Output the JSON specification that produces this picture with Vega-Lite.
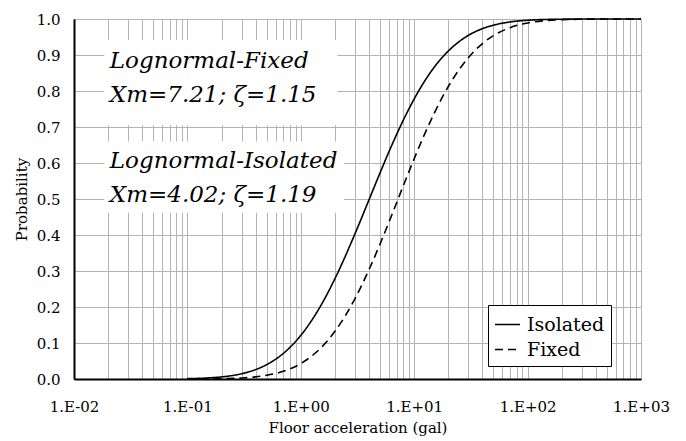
{
  "$schema": "https://vega.github.io/schema/vega-lite/v6.json",
  "width": 567,
  "height": 360,
  "autosize": "none",
  "padding": {"left": 74, "top": 19, "right": 45, "bottom": 62},
  "background": "white",
  "datasets": {
    "curves": [
      {"x": 0.1, "p": 0.00095, "series": "Isolated"},
      {"x": 0.15, "p": 0.00286, "series": "Isolated"},
      {"x": 0.2, "p": 0.00584, "series": "Isolated"},
      {"x": 0.3, "p": 0.0146, "series": "Isolated"},
      {"x": 0.4, "p": 0.0262, "series": "Isolated"},
      {"x": 0.5, "p": 0.0399, "series": "Isolated"},
      {"x": 0.7, "p": 0.0709, "series": "Isolated"},
      {"x": 1, "p": 0.1212, "series": "Isolated"},
      {"x": 1.5, "p": 0.2037, "series": "Isolated"},
      {"x": 2, "p": 0.2787, "series": "Isolated"},
      {"x": 3, "p": 0.4028, "series": "Isolated"},
      {"x": 4, "p": 0.4983, "series": "Isolated"},
      {"x": 5, "p": 0.5727, "series": "Isolated"},
      {"x": 6, "p": 0.6318, "series": "Isolated"},
      {"x": 7, "p": 0.6794, "series": "Isolated"},
      {"x": 8, "p": 0.7185, "series": "Isolated"},
      {"x": 10, "p": 0.7781, "series": "Isolated"},
      {"x": 12, "p": 0.821, "series": "Isolated"},
      {"x": 15, "p": 0.8658, "series": "Isolated"},
      {"x": 20, "p": 0.9112, "series": "Isolated"},
      {"x": 25, "p": 0.9377, "series": "Isolated"},
      {"x": 30, "p": 0.9544, "series": "Isolated"},
      {"x": 40, "p": 0.9732, "series": "Isolated"},
      {"x": 50, "p": 0.9829, "series": "Isolated"},
      {"x": 70, "p": 0.9918, "series": "Isolated"},
      {"x": 100, "p": 0.99654, "series": "Isolated"},
      {"x": 150, "p": 0.99882, "series": "Isolated"},
      {"x": 200, "p": 0.99949, "series": "Isolated"},
      {"x": 300, "p": 0.99985, "series": "Isolated"},
      {"x": 500, "p": 0.99997, "series": "Isolated"},
      {"x": 1000, "p": 1.0, "series": "Isolated"},
      {"x": 0.1, "p": 0.0001, "series": "Fixed"},
      {"x": 0.15, "p": 0.00038, "series": "Fixed"},
      {"x": 0.2, "p": 0.00091, "series": "Fixed"},
      {"x": 0.3, "p": 0.00285, "series": "Fixed"},
      {"x": 0.4, "p": 0.00596, "series": "Fixed"},
      {"x": 0.5, "p": 0.0102, "series": "Fixed"},
      {"x": 0.7, "p": 0.0213, "series": "Fixed"},
      {"x": 1, "p": 0.0429, "series": "Fixed"},
      {"x": 1.5, "p": 0.0861, "series": "Fixed"},
      {"x": 2, "p": 0.1324, "series": "Fixed"},
      {"x": 3, "p": 0.2229, "series": "Fixed"},
      {"x": 4, "p": 0.3042, "series": "Fixed"},
      {"x": 5, "p": 0.3751, "series": "Fixed"},
      {"x": 6, "p": 0.4366, "series": "Fixed"},
      {"x": 7, "p": 0.4897, "series": "Fixed"},
      {"x": 8, "p": 0.536, "series": "Fixed"},
      {"x": 10, "p": 0.612, "series": "Fixed"},
      {"x": 12, "p": 0.6711, "series": "Fixed"},
      {"x": 15, "p": 0.7379, "series": "Fixed"},
      {"x": 20, "p": 0.8125, "series": "Fixed"},
      {"x": 25, "p": 0.8602, "series": "Fixed"},
      {"x": 30, "p": 0.8925, "series": "Fixed"},
      {"x": 40, "p": 0.9319, "series": "Fixed"},
      {"x": 50, "p": 0.9539, "series": "Fixed"},
      {"x": 70, "p": 0.976, "series": "Fixed"},
      {"x": 100, "p": 0.9889, "series": "Fixed"},
      {"x": 150, "p": 0.99585, "series": "Fixed"},
      {"x": 200, "p": 0.99807, "series": "Fixed"},
      {"x": 300, "p": 0.99941, "series": "Fixed"},
      {"x": 500, "p": 0.99989, "series": "Fixed"},
      {"x": 1000, "p": 0.99999, "series": "Fixed"}
    ],
    "boxes": [
      {"x": 0.0185, "x2": 2.1, "p": 0.942, "p2": 0.705},
      {"x": 0.0185, "x2": 2.4, "p": 0.66, "p2": 0.462}
    ],
    "labels": [
      {"x": 0.0207, "p": 0.864, "text": "Lognormal-Fixed"},
      {"x": 0.0207, "p": 0.769, "text": "Xm=7.21; ζ=1.15"},
      {"x": 0.0207, "p": 0.586, "text": "Lognormal-Isolated"},
      {"x": 0.0207, "p": 0.492, "text": "Xm=4.02; ζ=1.19"}
    ]
  },
  "encoding": {
    "x": {
      "field": "x", "type": "quantitative",
      "scale": {"type": "log", "domain": [0.01, 1000], "nice": false},
      "title": "Floor acceleration (gal)",
      "axis": {
        "values": [0.01,0.02,0.03,0.04,0.05,0.06,0.07,0.08,0.09,0.1,0.2,0.3,0.4,0.5,0.6,0.7,0.8,0.9,1,2,3,4,5,6,7,8,9,10,20,30,40,50,60,70,80,90,100,200,300,400,500,600,700,800,900,1000],
        "labelExpr": "abs(log(datum.value)/LN10 - round(log(datum.value)/LN10)) < 0.000001 ? '1.E' + (round(log(datum.value)/LN10) >= 0 ? '+' : '-') + (abs(round(log(datum.value)/LN10)) < 10 ? '0' : '') + abs(round(log(datum.value)/LN10)) : ''",
        "labelOverlap": false,
        "labelFlush": false,
        "grid": true,
        "ticks": false,
        "labelPadding": 20,
        "titlePadding": 6
      }
    },
    "y": {
      "field": "p", "type": "quantitative",
      "scale": {"domain": [0, 1], "nice": false},
      "title": "Probability",
      "axis": {
        "values": [0,0.1,0.2,0.3,0.4,0.5,0.6,0.7,0.8,0.9,1],
        "format": ".1f",
        "labelOverlap": false,
        "grid": true,
        "ticks": false,
        "labelPadding": 14,
        "titlePadding": 7
      }
    }
  },
  "layer": [
    {
      "data": {"name": "boxes"},
      "mark": {"type": "rect", "fill": "white", "stroke": null},
      "encoding": {
        "x2": {"field": "x2"},
        "y2": {"field": "p2"}
      }
    },
    {
      "data": {"name": "curves"},
      "mark": {"type": "line", "interpolate": "monotone", "color": "black", "strokeWidth": 1.6},
      "encoding": {
        "strokeDash": {
          "field": "series", "type": "nominal",
          "scale": {"domain": ["Isolated", "Fixed"], "range": [[1, 0], [8, 5]]},
          "legend": {
            "title": null,
            "orient": "none",
            "legendX": 414,
            "legendY": 286,
            "symbolType": "stroke",
            "symbolSize": 625,
            "symbolStrokeWidth": 1.6,
            "symbolStrokeColor": "black",
            "labelFontSize": 19,
            "labelFont": "DejaVu Serif",
            "labelColor": "black",
            "strokeColor": "black",
            "fillColor": "white",
            "padding": 6,
            "rowPadding": 1,
            "labelOffset": 6
          }
        }
      }
    },
    {
      "data": {"name": "labels"},
      "mark": {"type": "text", "font": "DejaVu Serif", "fontStyle": "italic", "fontSize": 23, "align": "left", "baseline": "alphabetic", "color": "black"},
      "encoding": {
        "text": {"field": "text"}
      }
    }
  ],
  "config": {
    "view": {"stroke": "#808080", "strokeWidth": 1},
    "axis": {
      "labelFont": "DejaVu Serif",
      "titleFont": "DejaVu Serif",
      "labelFontSize": 15,
      "titleFontSize": 15,
      "titleFontWeight": "normal",
      "labelColor": "black",
      "titleColor": "black",
      "domainColor": "black",
      "domainWidth": 2,
      "gridColor": "#b4b4b4",
      "gridWidth": 1,
      "gridOpacity": 1
    }
  }
}
